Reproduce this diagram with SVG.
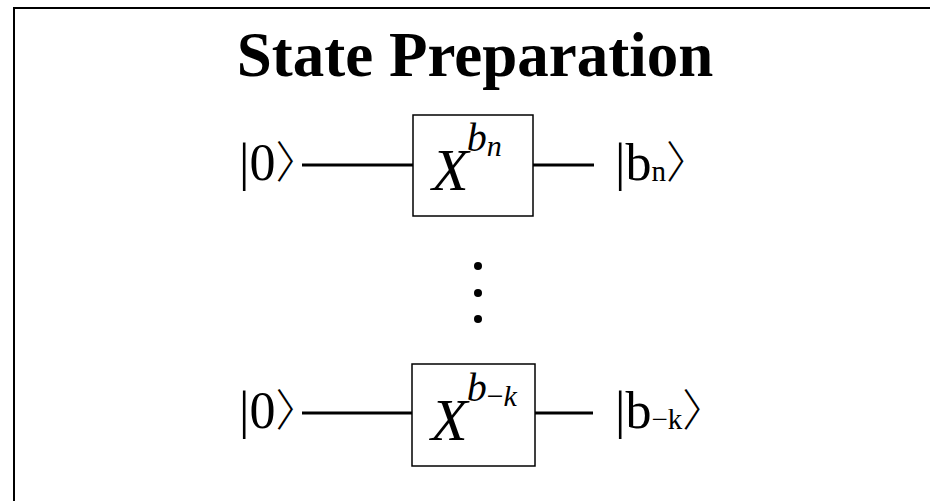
<svg xmlns="http://www.w3.org/2000/svg" width="930" height="501" viewBox="0 0 930 501">
<style>
.t{font-family:"Liberation Serif","DejaVu Serif",serif;fill:#000}
.k{font-size:52px}
.it{font-style:italic}
.br{font-family:"Noto Sans CJK JP","DejaVu Serif",serif;font-weight:300}
.wire{stroke:#000;stroke-width:3;fill:none}
.gate{fill:#fff;stroke:#000;stroke-width:1.5}
</style>
<rect x="14" y="8" width="930" height="510" fill="#fff" stroke="#000" stroke-width="2"/>
<text class="t" x="475" y="76" text-anchor="middle" font-size="63" font-weight="bold">State Preparation</text>
<g id="connectors">
<line class="wire" x1="302" y1="165" x2="413" y2="165"/>
<line class="wire" x1="533" y1="165" x2="594" y2="165"/>
<line class="wire" x1="302" y1="413" x2="412" y2="413"/>
<line class="wire" x1="535" y1="413" x2="593" y2="413"/>
</g>
<g id="in1"><text class="t k" x="239" y="180">|0<tspan class="br" font-size="44" dy="-2">〉</tspan></text></g>
<g id="gate1">
<rect class="gate" x="413" y="115" width="120" height="101"/>
<text class="t it" x="432" y="190" font-size="60">X<tspan font-size="40" dy="-39" dx="-2">b</tspan><tspan font-size="30" dy="5">n</tspan></text>
</g>
<g id="out1"><text class="t k" x="615" y="180">|b<tspan font-size="29" dy="1">n</tspan><tspan class="br" font-size="44" dy="-3">〉</tspan></text></g>
<g id="dots">
<circle cx="478" cy="266" r="4"/>
<circle cx="478" cy="293" r="4"/>
<circle cx="478" cy="319" r="4"/>
</g>
<g id="in2"><text class="t k" x="239" y="428">|0<tspan class="br" font-size="44" dy="-2">〉</tspan></text></g>
<g id="gate2">
<rect class="gate" x="412" y="364" width="123" height="102"/>
<text class="t it" x="431" y="440" font-size="60">X<tspan font-size="40" dy="-39" dx="-1">b</tspan><tspan font-size="30" font-style="normal" dy="5">−</tspan><tspan font-size="30">k</tspan></text>
</g>
<g id="out2"><text class="t k" x="615" y="428">|b<tspan font-size="29" dy="1">−k</tspan><tspan class="br" font-size="44" dy="-3">〉</tspan></text></g>
</svg>
